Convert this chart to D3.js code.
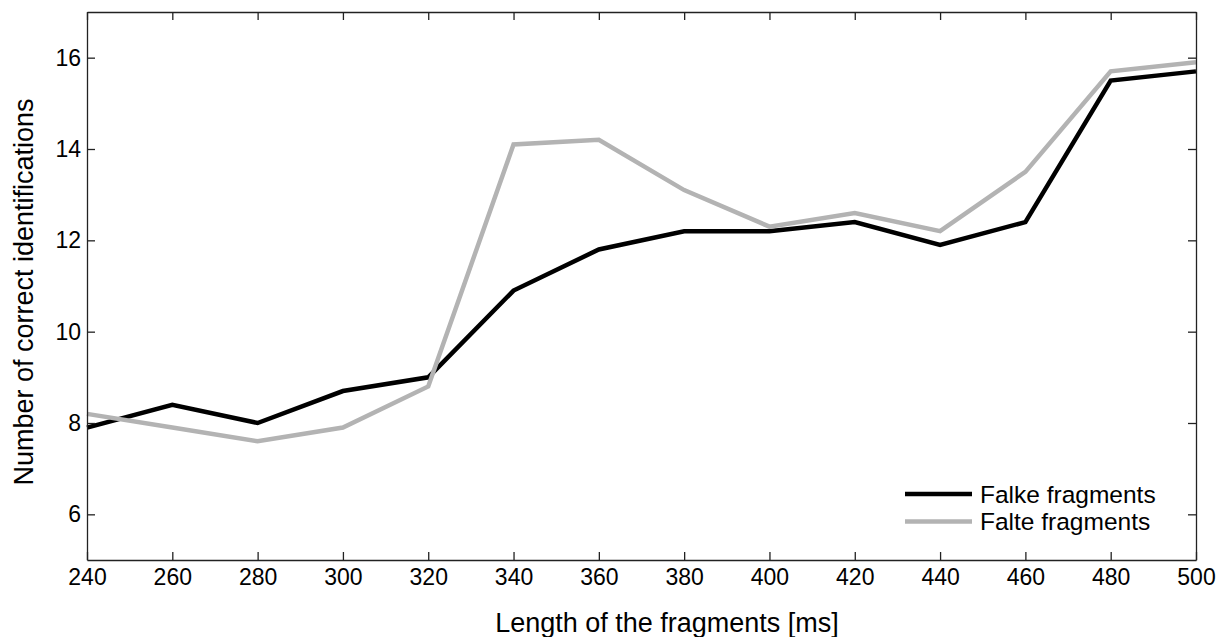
<!DOCTYPE html>
<html>
<head>
<meta charset="utf-8">
<script src="https://cdn.jsdelivr.net/npm/d3@7"></script>
<style>
  html, body { margin: 0; padding: 0; background: #fff; }
  svg { display: block; font-family: "Liberation Sans", Arial, sans-serif; }
</style>
</head>
<body>
<svg id="chart" width="1223" height="637"></svg>
<script>
// Fragment lengths (ms) and mean correct identifications per condition
const lengths = [240, 260, 280, 300, 320, 340, 360, 380, 400, 420, 440, 460, 480, 500];
const falke = [7.9, 8.4, 8.0, 8.7, 9.0, 10.9, 11.8, 12.2, 12.2, 12.4, 11.9, 12.4, 15.5, 15.7];
const falte = [8.2, 7.9, 7.6, 7.9, 8.8, 14.1, 14.2, 13.1, 12.3, 12.6, 12.2, 13.5, 15.7, 15.9];
const xTicks = [240, 260, 280, 300, 320, 340, 360, 380, 400, 420, 440, 460, 480, 500];
const yTicks = [6, 8, 10, 12, 14, 16];
const seriesNames = ["Falke fragments", "Falte fragments"];
const seriesColors = ["#000000", "#b3b3b3"];

const svg = d3.select("#chart");
const plotL = 87, plotR = 1196, plotT = 12, plotB = 560;

const x = d3.scaleLinear().domain([240, 500]).range([plotL, plotR]);
const y = d3.scaleLinear().domain([5, 17]).range([plotB, plotT]);

// Series lines
const line = d3.line().x(d => x(d[0])).y(d => y(d[1]));
[falke, falte].forEach((vals, i) => {
  svg.append("path")
    .datum(lengths.map((l, j) => [l, vals[j]]))
    .attr("d", line)
    .attr("fill", "none")
    .attr("stroke", seriesColors[i])
    .attr("stroke-width", 4.5)
    .attr("stroke-linejoin", "miter");
});

// Axes with inward ticks on all four sides
const tickLen = 8;
const fontSize = 23;
const bottomAxis = svg.append("g").attr("transform", `translate(0,${plotB})`)
  .call(d3.axisBottom(x).tickValues(xTicks).tickSizeInner(-tickLen).tickSizeOuter(0).tickPadding(9));
const topAxis = svg.append("g").attr("transform", `translate(0,${plotT})`)
  .call(d3.axisTop(x).tickValues(xTicks).tickSizeInner(-tickLen).tickSizeOuter(0).tickFormat(""));
const leftAxis = svg.append("g").attr("transform", `translate(${plotL},0)`)
  .call(d3.axisLeft(y).tickValues(yTicks).tickSizeInner(-tickLen).tickSizeOuter(0).tickPadding(6));
const rightAxis = svg.append("g").attr("transform", `translate(${plotR},0)`)
  .call(d3.axisRight(y).tickValues(yTicks).tickSizeInner(-tickLen).tickSizeOuter(0).tickFormat(""));

[bottomAxis, topAxis, leftAxis, rightAxis].forEach(g => {
  g.attr("font-size", fontSize).attr("font-family", "Liberation Sans, Arial, sans-serif");
  g.select(".domain").attr("stroke", "#222").attr("stroke-width", 1.3);
  g.selectAll(".tick line").attr("stroke", "#222").attr("stroke-width", 1.3);
  g.selectAll(".tick text").attr("fill", "#000");
});

// Axis titles
svg.append("text")
  .attr("x", 667).attr("y", 632)
  .attr("text-anchor", "middle").attr("font-size", 27).attr("fill", "#000")
  .text("Length of the fragments [ms]");
svg.append("text")
  .attr("transform", `translate(33,292) rotate(-90)`)
  .attr("text-anchor", "middle").attr("font-size", 27).attr("fill", "#000")
  .text("Number of correct identifications");

// Legend
const legend = svg.append("g").attr("transform", "translate(905,494)");
seriesNames.forEach((name, i) => {
  const row = legend.append("g").attr("transform", `translate(0,${i * 27.5})`);
  row.append("line").attr("x1", 0).attr("x2", 67).attr("y1", 0).attr("y2", 0)
    .attr("stroke", seriesColors[i]).attr("stroke-width", 4.5);
  row.append("text").attr("x", 75).attr("y", 0).attr("dy", "0.35em")
    .attr("font-size", 24.5).attr("fill", "#000").text(name);
});
</script>
</body>
</html>
